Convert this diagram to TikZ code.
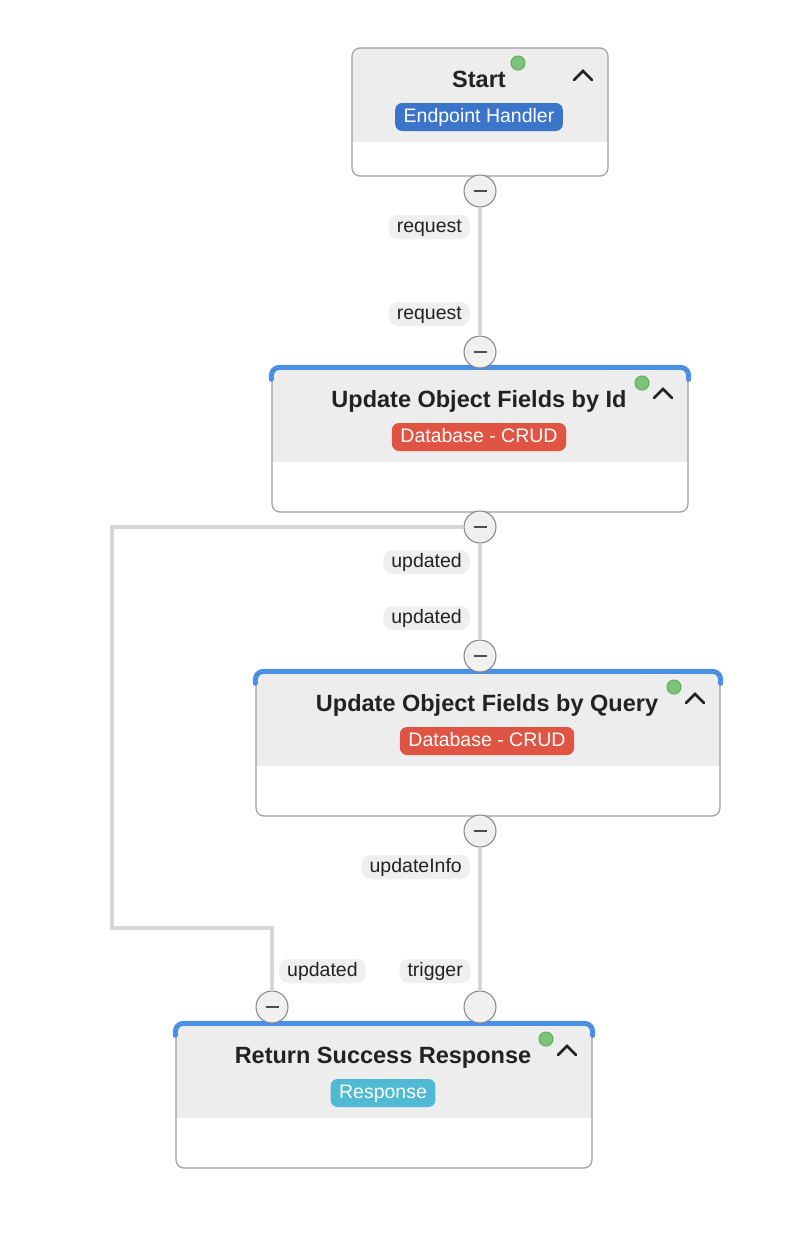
\documentclass[tikz,border=0pt]{standalone}
\usepackage{fontspec}
\setmainfont{Liberation Sans}
\definecolor{wiregray}{HTML}{D6D6D6}
\definecolor{cardline}{HTML}{A0A0A0}
\definecolor{headgray}{HTML}{EDEDED}
\definecolor{portfill}{HTML}{F0F0F0}
\definecolor{portline}{HTML}{808080}
\definecolor{labelgray}{HTML}{EFEFEF}
\definecolor{textdark}{HTML}{222222}
\definecolor{barblue}{HTML}{4A90E2}
\definecolor{handlerblue}{HTML}{3A75CA}
\definecolor{crudred}{HTML}{E05444}
\definecolor{responsecyan}{HTML}{50B9D3}
\definecolor{dotgreen}{HTML}{7CC47A}
\definecolor{dotring}{HTML}{5DAE5B}

\begin{document}
\begin{tikzpicture}[x=1pt, y=-1pt,
  card/.style={rounded corners=8pt, draw=cardline, line width=1.2pt, fill=white, inner sep=0pt,
    path picture={\fill[headgray, sharp corners] (path picture bounding box.north west) rectangle ([yshift=-94pt]path picture bounding box.north east);}},
  cardtitle/.style={anchor=base, font=\fontsize{23.5}{28}\selectfont\bfseries, text=textdark, inner sep=0pt},
  badge/.style={rounded corners=7pt, text=white, font=\fontsize{19.5}{23}\selectfont,
    text height=14pt, text depth=4pt, inner xsep=8.5pt, inner ysep=5pt},
  wirelabel/.style={rounded corners=9pt, fill=labelgray, text=textdark, font=\fontsize{19.5}{23}\selectfont,
    text height=14pt, text depth=4pt, inner xsep=8pt, inner ysep=3pt},
  port/.style={circle, draw=portline, line width=1pt, fill=portfill, minimum size=32pt, inner sep=0pt},
  portminus/.style={port, path picture={\draw[textdark!80, line width=1.6pt] ([xshift=-6.5pt]path picture bounding box.center) -- ([xshift=6.5pt]path picture bounding box.center);}},
  wire/.style={draw=wiregray, line width=4pt},
  topbar/.style={draw=barblue, line width=5pt, rounded corners=8pt, line cap=round},
  statusdot/.style={circle, fill=dotgreen, draw=dotring, line width=1pt, minimum size=14pt, inner sep=0pt},
  caret/.style={draw=textdark, line width=2.6pt, line cap=round}]
  \path[fill=white, use as bounding box] (0,0) rectangle (798,1237);

  \node[card, minimum width=256pt, minimum height=128pt] (startCard) at (480,112) {};
  \node[cardtitle] (startTitle) at (479,87) {Start};
  \node[badge, fill=handlerblue] (startBadge) at (479,117) {Endpoint Handler};
  \node[statusdot] (startDot) at (518,63) {};
  \draw[caret] (574,80) -- (583,71) -- (592,80);
  \node[portminus] (startOut) at (480,191) {};

  \node[card, minimum width=416pt, minimum height=144pt] (idCard) at (480,440) {};
  \draw[topbar] ([yshift=-12pt]idCard.north west) -- (idCard.north west) -- (idCard.north east) -- ([yshift=-12pt]idCard.north east);
  \node[cardtitle] (idTitle) at (479,407) {Update Object Fields by Id};
  \node[badge, fill=crudred] (idBadge) at (479,437) {Database - CRUD};
  \node[statusdot] (idDot) at (642,383) {};
  \draw[caret] (654,398) -- (663,389) -- (672,398);
  \node[portminus] (idIn) at (480,352) {};
  \node[portminus] (idOut) at (480,527) {};

  \node[card, minimum width=464pt, minimum height=144pt] (queryCard) at (488,744) {};
  \draw[topbar] ([yshift=-12pt]queryCard.north west) -- (queryCard.north west) -- (queryCard.north east) -- ([yshift=-12pt]queryCard.north east);
  \node[cardtitle] (queryTitle) at (487,711) {Update Object Fields by Query};
  \node[badge, fill=crudred] (queryBadge) at (487,741) {Database - CRUD};
  \node[statusdot] (queryDot) at (674,687) {};
  \draw[caret] (686,703) -- (695,694) -- (704,703);
  \node[portminus] (queryIn) at (480,656) {};
  \node[portminus] (queryOut) at (480,831) {};

  \node[card, minimum width=416pt, minimum height=144pt] (rspCard) at (384,1096) {};
  \draw[topbar] ([yshift=-12pt]rspCard.north west) -- (rspCard.north west) -- (rspCard.north east) -- ([yshift=-12pt]rspCard.north east);
  \node[cardtitle] (rspTitle) at (383,1063) {Return Success Response};
  \node[badge, fill=responsecyan] (rspBadge) at (383,1093) {Response};
  \node[statusdot] (rspDot) at (546,1039) {};
  \draw[caret] (558,1055) -- (567,1046) -- (576,1055);
  \node[portminus] (rspUpdated) at (272,1007) {};
  \node[port] (rspTrigger) at (480,1007) {};

  \coordinate (loopTop) at (112,527);
  \coordinate (loopBottom) at (112,928);
  \draw[wire] (startOut) -- (idIn);
  \draw[wire] (idOut) -- (queryIn);
  \draw[wire] (queryOut) -- (rspTrigger);
  \draw[wire] (idOut.west) -- (loopTop) -- (loopBottom) -| (rspUpdated.north);

  \node[wirelabel, anchor=east] (reqOutLabel) at (470,227) {request};
  \node[wirelabel, anchor=east] (reqInLabel) at (470,314) {request};
  \node[wirelabel, anchor=east] (updOutLabel) at (470,562) {updated};
  \node[wirelabel, anchor=east] (updInLabel) at (470,618) {updated};
  \node[wirelabel, anchor=east] (infoLabel) at (470,867) {updateInfo};
  \node[wirelabel, anchor=west] (updRspLabel) at (279,971) {updated};
  \node[wirelabel, anchor=east] (trigLabel) at (471,971) {trigger};
\end{tikzpicture}
\end{document}
